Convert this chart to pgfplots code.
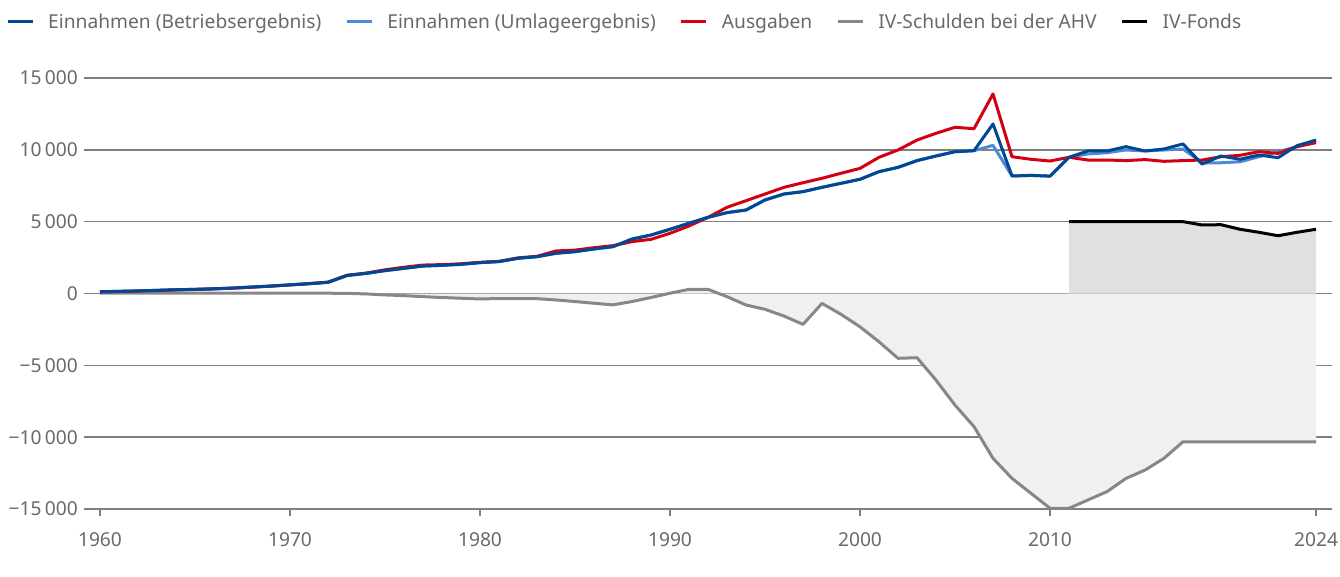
\documentclass[border=0pt]{standalone}
\usepackage{fontspec}
\setmainfont{Noto Sans}
\usepackage{pgfplots}
\usepackage{pgfplotstable}
\pgfplotsset{compat=1.18}
\definecolor{dblue}{RGB}{0,72,145}
\definecolor{lblue}{RGB}{74,138,214}
\definecolor{ared}{RGB}{212,0,18}
\definecolor{dgray}{RGB}{135,135,135}
\definecolor{txt}{RGB}{105,105,105}
\definecolor{gridc}{RGB}{128,128,128}
\definecolor{fillA}{RGB}{240,240,240}
\definecolor{fillB}{RGB}{224,224,224}

\pgfplotstableread{
year betrieb umlage ausgaben schulden
1960 120 120 100 20
1961 150 150 140 20
1962 180 180 170 20
1963 220 220 210 20
1964 260 260 250 20
1965 290 290 280 20
1966 330 330 320 20
1967 380 380 370 20
1968 450 450 440 20
1969 520 520 510 20
1970 600 600 600 20
1971 680 680 690 20
1972 780 780 790 20
1973 1250 1250 1270 10
1974 1400 1400 1420 -30
1975 1590 1590 1650 -100
1976 1750 1750 1830 -150
1977 1910 1910 1980 -220
1978 1960 1960 2010 -280
1979 2030 2030 2070 -330
1980 2150 2150 2170 -380
1981 2220 2220 2240 -350
1982 2450 2450 2480 -360
1983 2560 2560 2590 -360
1984 2800 2800 2960 -450
1985 2910 2910 3020 -560
1986 3100 3100 3190 -680
1987 3260 3260 3330 -790
1988 3790 3790 3610 -560
1989 4070 4070 3770 -280
1990 4470 4470 4190 20
1991 4890 4890 4700 290
1992 5300 5300 5300 290
1993 5630 5630 6000 -220
1994 5810 5810 6460 -800
1995 6510 6510 6925 -1100
1996 6925 6925 7390 -1570
1997 7090 7090 7710 -2150
1998 7390 7390 8020 -690
1999 7670 7670 8370 -1450
2000 7950 7950 8710 -2320
2001 8480 8480 9480 -3360
2002 8780 8780 9990 -4510
2003 9250 9250 10680 -4470
2004 9570 9570 11150 -6030
2005 9870 9870 11570 -7770
2006 9940 9940 11470 -9270
2007 11800 10310 13890 -11470
2008 8180 8180 9520 -12870
2009 8220 8220 9340 -13910
2010 8170 8170 9220 -14950
2011 9480 9480 9480 -14950
2012 9920 9710 9290 -14370
2013 9920 9800 9290 -13790
2014 10220 9990 9250 -12870
2015 9920 9920 9320 -12290
2016 10060 9990 9200 -11470
2017 10410 10060 9250 -10320
2018 9010 9100 9290 -10320
2019 9570 9100 9520 -10320
2020 9340 9170 9620 -10320
2021 9640 9520 9870 -10320
2022 9450 9870 9750 -10320
2023 10290 10220 10220 -10320
2024 10680 10640 10500 -10320
}\maindata

\pgfplotstableread{
year fonds
2011 5000
2012 5000
2013 5000
2014 5000
2015 5000
2016 5000
2017 5000
2018 4770
2019 4790
2020 4470
2021 4260
2022 4020
2023 4260
2024 4470
}\fondsdata

\begin{document}
\begin{tikzpicture}
\begin{axis}[
  set layers,
  at={(84pt,67pt)}, anchor=south west,
  scale only axis, width=1248pt, height=431pt,
  xmin=1959.158, xmax=2024.842, ymin=-15000, ymax=15000,
  scaled y ticks=false,
  axis lines*=left,
  axis line style={draw=none},
  xtick={1960,1970,1980,1990,2000,2010,2024},
  xticklabels={1960,1970,1980,1990,2000,2010,2024},
  ytick={-15000,-10000,-5000,0,5000,10000,15000},
  yticklabels={−15\,000,−10\,000,−5\,000,0,5\,000,10\,000,15\,000},
  tick align=outside,
  major tick length=7pt,
  xtick style={draw=gridc, line width=1.3pt},
  ytick style={draw=none},
  ymajorgrids,
  grid style={gridc, line width=1.5pt},
  tick label style={font=\fontsize{19.2}{23}\selectfont, text=txt},
  yticklabel style={inner sep=0pt, xshift=1pt},
  xticklabel style={inner sep=0pt, yshift=-16pt},
  clip=false,
  legend columns=5,
  legend style={draw=none, fill=none, at={(-0.0625,1.13)}, anchor=west,
    font=\fontsize{19.2}{23}\selectfont, text=txt, inner sep=0pt,
    nodes={inner sep=0pt},
    /tikz/every odd column/.append style={column sep=14pt},
    /tikz/every even column/.append style={column sep=24pt}},
  legend cell align=left,
  legend image code/.code={\draw[#1, line width=3pt] (0pt,0pt) -- (25pt,0pt);},
]
\addlegendimage{dblue}
\addlegendentry{Einnahmen (Betriebsergebnis)}
\addlegendimage{lblue}
\addlegendentry{Einnahmen (Umlageergebnis)}
\addlegendimage{ared}
\addlegendentry{Ausgaben}
\addlegendimage{dgray}
\addlegendentry{IV-Schulden bei der AHV}
\addlegendimage{black}
\addlegendentry{IV-Fonds}

\addplot[draw=none, fill=fillA, forget plot] table[x=year, y=schulden] {\maindata} \closedcycle;
\addplot[draw=none, fill=fillB, forget plot] table[x=year, y=fonds] {\fondsdata} \closedcycle;

\addplot[dgray, line width=3pt, line join=round, forget plot] table[x=year, y=schulden] {\maindata};
\addplot[black, line width=3pt, line join=round, forget plot] table[x=year, y=fonds] {\fondsdata};
\addplot[lblue, line width=3pt, line join=round, forget plot] table[x=year, y=umlage] {\maindata};
\addplot[ared, line width=3pt, line join=round, forget plot] table[x=year, y=ausgaben] {\maindata};
\addplot[dblue, line width=3pt, line join=round, forget plot] table[x=year, y=betrieb] {\maindata};
\end{axis}
\pgfresetboundingbox
\path (0pt,0pt) rectangle (1340pt,576pt);
\end{tikzpicture}
\end{document}
